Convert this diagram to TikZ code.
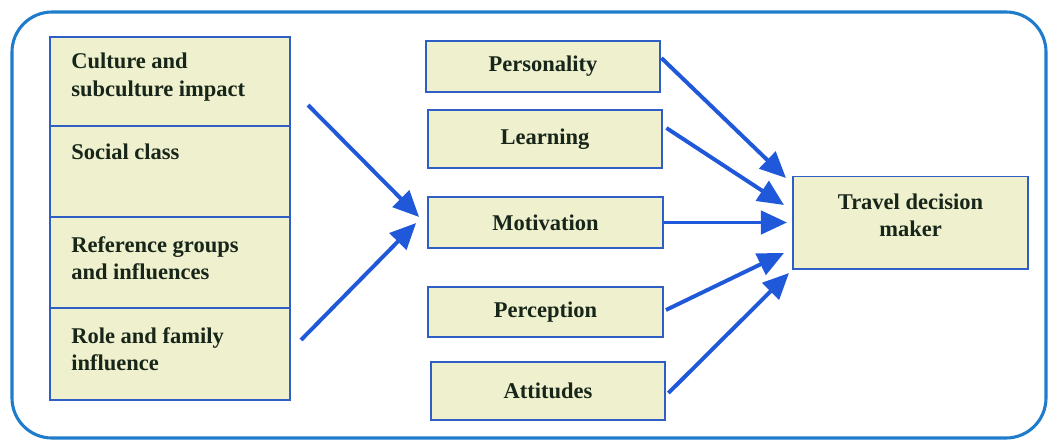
\documentclass[tikz,border=0pt]{standalone}
\usepackage{fontspec}
\setmainfont{Liberation Serif}
\usepackage{xcolor}
\usetikzlibrary{arrows.meta, positioning, calc}

\definecolor{boxfill}{HTML}{EEF0CE}
\definecolor{boxline}{HTML}{2F5FC4}
\definecolor{arrowblue}{HTML}{1F58D8}
\definecolor{framecol}{HTML}{1E7CCB}
\definecolor{txtcol}{HTML}{18261A}

\begin{document}
\begin{tikzpicture}[x=0.025cm, y=-0.025cm,
  block/.style={draw=boxline, fill=boxfill, line width=1.4pt, rectangle, inner sep=0pt, minimum width=5.87cm, align=center, text=txtcol, font=\fontsize{16}{19.5}\selectfont\bfseries},
  stackbox/.style={draw=boxline, fill=boxfill, line width=1.4pt, rectangle, inner sep=0pt, minimum width=6cm},
  stacktext/.style={anchor=north west, inner sep=0pt, align=left, text=txtcol, font=\fontsize{16}{19.5}\selectfont\bfseries},
  arrow/.style={-{Triangle[length=0.65cm, width=0.58cm]}, line width=2.8pt, draw=arrowblue}
]
\useasboundingbox (0,0) rectangle (1051,442);

% Outer frame
\draw[framecol, line width=2.2pt, rounded corners=1cm] (12,12) rectangle (1046,438);

% Left column
\node[stackbox, minimum height=2.225cm] (cult) at (170,81.5) {};
\node[stackbox, minimum height=2.275cm] (soc) at (170,171.5) {};
\node[stackbox, minimum height=2.275cm] (refg) at (170,262.5) {};
\node[stackbox, minimum height=2.3cm] (role) at (170,354) {};
\node[stacktext] (cult_txt) at ([shift={(22,17)}]cult.north west) {Culture and\\subculture impact};
\node[stacktext] (soc_txt) at ([shift={(22,19)}]soc.north west) {Social class};
\node[stacktext] (refg_txt) at ([shift={(22,20)}]refg.north west) {Reference groups\\and influences};
\node[stacktext] (role_txt) at ([shift={(22,20)}]role.north west) {Role and family\\influence};

% Middle column
\node[block, minimum height=1.275cm] (pers) at (543,66.5) {Personality};
\node[block, minimum height=1.45cm] (learn) at (545,139) {Learning};
\node[block, minimum height=1.275cm] (motiv) at (545.5,222.5) {Motivation};
\node[block, minimum height=1.25cm] (perc) at (545.5,312) {Perception};
\node[block, minimum height=1.45cm] (att) at (548,391) {Attitudes};

% Right box
\node[block, minimum height=2.3cm, minimum width=5.875cm] (tdm) at (910.5,222.5) {Travel decision\\maker\\[-9pt]};

% Arrows into motivation
\draw[arrow] ([shift={(17,23.5)}]cult.east) -- ([shift={(-8,-5.5)}]motiv.west);
\draw[arrow] ([shift={(10,-14)}]role.east) -- ([shift={(-11,0.5)}]motiv.west);

% Arrows into travel decision maker
\draw[arrow] ([shift={(0,-8.5)}]pers.east) -- ([shift={(-6,-44.5)}]tdm.west);
\draw[arrow] ([shift={(3,-11)}]learn.east) -- ([shift={(-8,-17.5)}]tdm.west);
\draw[arrow] (motiv.east) -- ([shift={(-5,0)}]tdm.west);
\draw[arrow] ([shift={(2,-2)}]perc.east) -- ([shift={(-8,30.5)}]tdm.west);
\draw[arrow] ([shift={(2,2)}]att.east) -- ([shift={(-3,50.5)}]tdm.west);

\end{tikzpicture}
\end{document}
